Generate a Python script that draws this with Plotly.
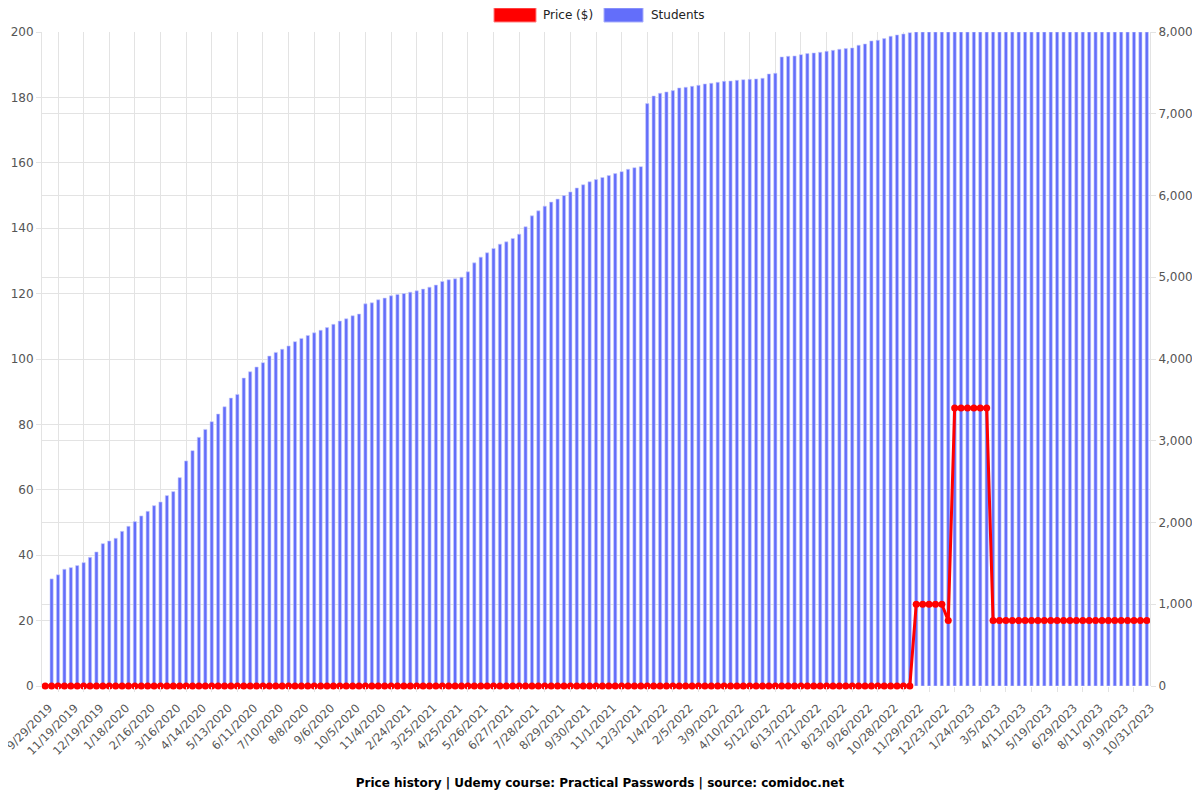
import plotly.graph_objects as go

tick_labels = ["9/29/2019","11/19/2019","12/19/2019","1/18/2020","2/16/2020","3/16/2020","4/14/2020",
               "5/13/2020","6/11/2020","7/10/2020","8/8/2020","9/6/2020","10/5/2020","11/4/2020",
               "2/24/2021","3/25/2021","4/25/2021","5/26/2021","6/27/2021","7/28/2021","8/29/2021",
               "9/30/2021","11/1/2021","12/3/2021","1/4/2022","2/5/2022","3/9/2022","4/10/2022",
               "5/12/2022","6/13/2022","7/21/2022","8/23/2022","9/26/2022","10/28/2022","11/29/2022",
               "12/23/2022","1/24/2023","3/5/2023","4/11/2023","5/19/2023","6/29/2023","8/11/2023",
               "9/19/2023","10/31/2023"]

price = [
    0, 0, 0, 0, 0, 0, 0, 0, 0, 0, 0, 0, 0, 0, 0, 0, 0, 0, 0, 0,
    0, 0, 0, 0, 0, 0, 0, 0, 0, 0, 0, 0, 0, 0, 0, 0, 0, 0, 0, 0,
    0, 0, 0, 0, 0, 0, 0, 0, 0, 0, 0, 0, 0, 0, 0, 0, 0, 0, 0, 0,
    0, 0, 0, 0, 0, 0, 0, 0, 0, 0, 0, 0, 0, 0, 0, 0, 0, 0, 0, 0,
    0, 0, 0, 0, 0, 0, 0, 0, 0, 0, 0, 0, 0, 0, 0, 0, 0, 0, 0, 0,
    0, 0, 0, 0, 0, 0, 0, 0, 0, 0, 0, 0, 0, 0, 0, 0, 0, 0, 0, 0,
    0, 0, 0, 0, 0, 0, 0, 0, 0, 0, 0, 0, 0, 0, 0, 0,
    25, 25, 25, 25, 25, 20,
    85, 85, 85, 85, 85, 85,
    20, 20, 20, 20, 20, 20, 20, 20, 20, 20, 20, 20, 20, 20, 20, 20, 20, 20, 20, 20,
    20, 20, 20, 20, 20,
]

students = [
    None, 1310, 1360, 1428, 1448, 1473, 1509, 1574, 1640, 1741,
    1774, 1807, 1892, 1953, 2011, 2080, 2137, 2206, 2251, 2329,
    2378, 2549, 2753, 2879, 3042, 3139, 3233, 3327, 3416, 3522,
    3567, 3767, 3844, 3902, 3955, 4036, 4081, 4120, 4160, 4212,
    4252, 4288, 4320, 4352, 4384, 4424, 4464, 4492, 4529, 4550,
    4675, 4687, 4724, 4745, 4773, 4789, 4801, 4818, 4834, 4855,
    4879, 4904, 4948, 4969, 4981, 5001, 5066, 5176, 5246, 5299,
    5352, 5405, 5433, 5474, 5527, 5617, 5751, 5812, 5870, 5919,
    5956, 6000, 6044, 6092, 6132, 6168, 6196, 6220, 6244, 6268,
    6292, 6320, 6340, 6353, 7124, 7218, 7251, 7267, 7283, 7316,
    7324, 7336, 7348, 7365, 7373, 7385, 7397, 7401, 7409, 7417,
    7421, 7426, 7434, 7487, 7495, 7695, 7703, 7707, 7723, 7736,
    7744, 7752, 7764, 7776, 7789, 7797, 7805, 7838, 7854, 7891,
    7899, 7919, 7948, 7964, 7976, 7992, 8000, 8000, 8000, 8000,
    8000, 8000, 8000, 8000, 8000, 8000, 8000, 8000, 8000, 8000,
    8000, 8000, 8000, 8000, 8000, 8000, 8000, 8000, 8000, 8000,
    8000, 8000, 8000, 8000, 8000, 8000, 8000, 8000, 8000, 8000,
    8000, 8000, 8000,
]

n = len(price)
idx = list(range(n))
label_pos = list(range(0, n, 4))
tick_pos = [p + 2 for p in label_pos[:-1]]

GRID = "#e3e3e3"
FONT = "DejaVu Sans"
TXT = "#555"

fig = go.Figure()
fig.add_trace(go.Bar(x=idx, y=students, name="Students", yaxis="y",
                     marker=dict(color="#636EFA", line=dict(width=0.6, color="#c9cdfb")),
                     showlegend=False))
fig.add_trace(go.Scatter(x=idx, y=price, name="Price ($)", yaxis="y2", mode="lines+markers",
                         line=dict(color="#FF0000", width=3),
                         marker=dict(color="#FF0000", size=7),
                         showlegend=False, cliponaxis=False))

fig.update_layout(
    width=1200, height=800,
    margin=dict(l=34, r=58, t=24, b=122, autoexpand=False),
    paper_bgcolor="white", plot_bgcolor="white",
    font=dict(family=FONT, size=12, color=TXT),
    bargap=0.5,
    showlegend=False,
    title=dict(text="<b>Price history | Udemy course: Practical Passwords | source: comidoc.net</b>",
               x=0.4933, xanchor="center", y=0.031, yanchor="middle", automargin=False,
               font=dict(family=FONT, size=12, color="#000")),
    xaxis=dict(range=[-0.5, n - 0.5], tickmode="array", tickvals=label_pos, ticktext=tick_labels,
               tickangle=-45, ticks="", showgrid=False, zeroline=False, automargin=False,
               ticklabeloverflow="allow", ticklabelstandoff=12, ticklabelshift=4,
               tickfont=dict(size=11.5, color=TXT),
               minor=dict(tickmode="array", tickvals=tick_pos, ticks="outside", ticklen=5,
                          tickcolor=GRID, showgrid=True, gridcolor=GRID, gridwidth=1)),
    yaxis=dict(side="right", range=[0, 8000], dtick=1000, tickformat=",", automargin=False,
               showgrid=True, gridcolor=GRID, zeroline=False, tickfont=dict(size=12, color=TXT),
               showline=True, linecolor=GRID, ticks="outside", ticklen=5, tickcolor=GRID),
    yaxis2=dict(side="left", overlaying="y", range=[0, 200], dtick=20, automargin=False,
                showgrid=True, gridcolor=GRID, zeroline=False, tickfont=dict(size=12, color=TXT),
                showline=True, linecolor=GRID, ticks="outside", ticklen=5, tickcolor=GRID),
)

# legend (top centre); positions measured on the reference screenshot
def px_x(p):
    return (p - 42) / 1108.0

def px_y(p):
    return (686 - p) / 654.0

fig.add_shape(type="rect", xref="paper", yref="paper",
              x0=px_x(494), x1=px_x(536), y0=px_y(22), y1=px_y(8),
              fillcolor="#FF0000", line=dict(color="#ff8080", width=1))
fig.add_annotation(xref="paper", yref="paper", x=px_x(541), y=px_y(15), text="Price ($)",
                   showarrow=False, xanchor="left", yanchor="middle",
                   font=dict(family=FONT, size=12, color="#222"))
fig.add_shape(type="rect", xref="paper", yref="paper",
              x0=px_x(604), x1=px_x(643), y0=px_y(22), y1=px_y(8),
              fillcolor="#636EFA", line=dict(color="#a9affc", width=1))
fig.add_annotation(xref="paper", yref="paper", x=px_x(649), y=px_y(15), text="Students",
                   showarrow=False, xanchor="left", yanchor="middle",
                   font=dict(family=FONT, size=12, color="#222"))

fig.write_html("out.html")
